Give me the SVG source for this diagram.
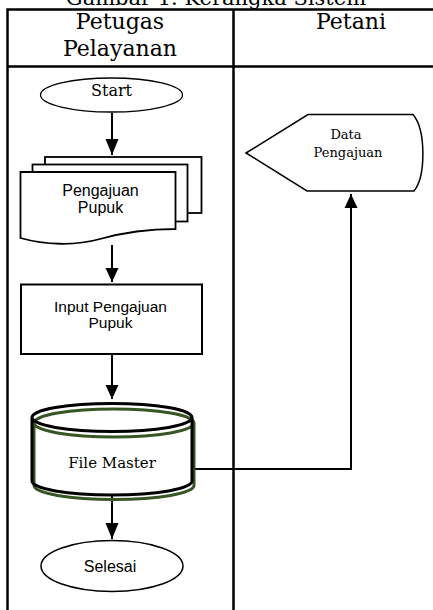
<svg xmlns="http://www.w3.org/2000/svg" width="433" height="610" viewBox="0 0 433 610">
<style>
.serif{font-family:"DejaVu Serif","Liberation Serif",serif;fill:#000}
.sans{font-family:"Liberation Sans",Arial,sans-serif;fill:#000}
.lane{stroke:#000;stroke-width:2.5;fill:none}
.conn{stroke:#000;stroke-width:2;fill:none}
.shape{stroke:#000;fill:#fff}
</style>
<defs>
<marker id="arr" markerUnits="userSpaceOnUse" markerWidth="15" markerHeight="13" viewBox="0 0 15 13" refX="14" refY="6.5" orient="auto">
<path d="M0,0 L15,6.5 L0,13 Z" fill="#000"/>
</marker>
</defs>
<rect width="433" height="610" fill="#fff"/>
<text class="serif" x="216" y="5" font-size="21" text-anchor="middle">Gambar 1. Kerangka Sistem</text>
<g id="lanes">
<path class="lane" d="M7.5,610 V9.5 H440 M233.5,9.5 V610 M7.5,66.5 H440"/>
<text class="serif" x="120" y="29" font-size="22" text-anchor="middle">Petugas</text>
<text class="serif" x="120" y="56" font-size="22" text-anchor="middle">Pelayanan</text>
<text class="serif" x="351" y="29" font-size="22" text-anchor="middle">Petani</text>
</g>
<g id="connectors">
<path class="conn" d="M112,113 V155"/>
<path class="conn" d="M112,245 V282"/>
<path class="conn" d="M112,354 V399"/>
<path class="conn" d="M112,496 V539"/>
<path class="conn" d="M192,469 H351 V194"/>
</g>
<g id="start">
<ellipse class="shape" cx="111.5" cy="95" rx="71" ry="17" stroke-width="1.3"/>
<text class="serif" x="111.5" y="96" font-size="16" text-anchor="middle">Start</text>
</g>
<g id="pengajuan-pupuk">
<rect class="shape" x="45" y="157" width="156.5" height="56" stroke-width="1.8"/>
<rect class="shape" x="32.5" y="164.5" width="155" height="57" stroke-width="1.8"/>
<path class="shape" stroke-width="1.8" d="M20.5,172 H175.5 V229 C150,229 125,232 100,239 C75,246 45,245 20.5,238 Z"/>
<text class="sans" x="100.5" y="196" font-size="16" text-anchor="middle">Pengajuan</text>
<text class="sans" x="100.5" y="213" font-size="16" text-anchor="middle">Pupuk</text>
</g>
<g id="input">
<rect class="shape" x="21" y="284.5" width="181" height="69.5" stroke-width="2"/>
<text class="sans" x="110.5" y="311.5" font-size="15.5" text-anchor="middle">Input Pengajuan</text>
<text class="sans" x="110.5" y="328" font-size="15.5" text-anchor="middle">Pupuk</text>
</g>
<g id="file-master">
<path d="M32,417.5 A80,14 0 0 1 192,417.5 V481 A80,14 0 0 1 32,481 Z" fill="#fff"/>
<path d="M34,423 A80,14 0 0 1 194,423 V485.5 A80,14 0 0 1 34,485.5 Z M34,423 A80,14 0 0 0 194,423" fill="none" stroke="#375623" stroke-width="3"/>
<path d="M32,417.5 A80,14 0 0 1 192,417.5 V481 A80,14 0 0 1 32,481 Z M32,417.5 A80,14 0 0 0 192,417.5" fill="none" stroke="#000" stroke-width="3"/>
<text class="serif" x="112" y="467.5" font-size="15" text-anchor="middle">File Master</text>
</g>
<g id="data-pengajuan">
<path class="shape" stroke-width="1.5" d="M246,153 L308,114.5 H413 C426,130 426,176 414,191 H307 Z"/>
<text class="serif" x="346" y="139" font-size="13" text-anchor="middle">Data</text>
<text class="serif" x="348" y="156.5" font-size="13" text-anchor="middle">Pengajuan</text>
</g>
<g id="selesai">
<ellipse class="shape" cx="112" cy="566" rx="71" ry="25.5" stroke-width="1.5"/>
<text class="sans" x="110" y="571.5" font-size="16" text-anchor="middle">Selesai</text>
</g>
<g id="arrowheads">
<path d="M105.5,139 L118.5,139 L112,155 Z" fill="#000"/>
<path d="M105.5,268 L118.5,268 L112,282 Z" fill="#000"/>
<path d="M105.5,385 L118.5,385 L112,399 Z" fill="#000"/>
<path d="M105.5,523 L118.5,523 L112,539 Z" fill="#000"/>
<path d="M344.5,208 L357.5,208 L351,194 Z" fill="#000"/>
</g>
</svg>
